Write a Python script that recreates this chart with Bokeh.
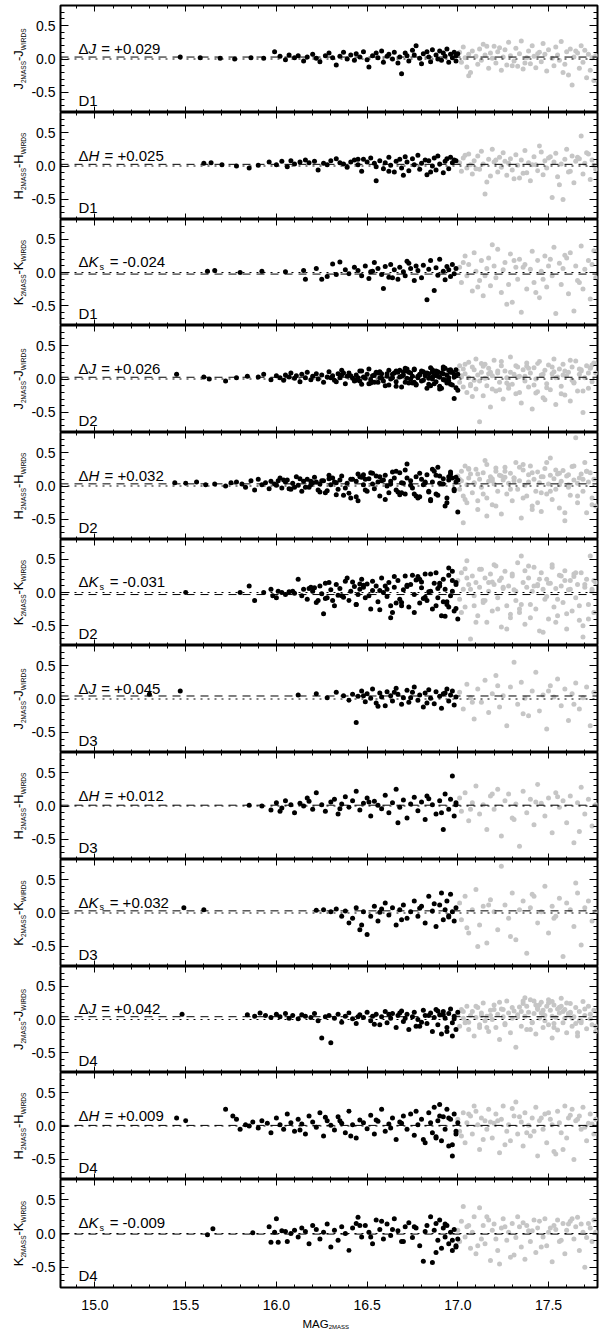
import math
from bokeh.plotting import figure
from bokeh.layouts import column, row
from bokeh.models import (Range1d, LinearAxis, FixedTicker, Span, Label,
                          NumeralTickFormatter, CustomJSTickFormatter, ColumnDataSource)
from bokeh.embed import file_html
from bokeh.resources import INLINE

# ---------------- data ----------------
fields = ["D1", "D1", "D1", "D2", "D2", "D2", "D3", "D3", "D3", "D4", "D4", "D4"]
bands = ["J", "H", "Ks", "J", "H", "Ks", "J", "H", "Ks", "J", "H", "Ks"]
deltas = [0.029, 0.025, -0.024, 0.026, 0.032, -0.031, 0.045, 0.012, 0.032, 0.042, 0.009, -0.009]
x_tick_values = [15.0, 15.5, 16.0, 16.5, 17.0, 17.5]
y_tick_values = [-0.5, 0.0, 0.5]

d1_j_bx = [15.47,15.58,15.69,15.77,15.86,15.93,15.99,16.02,16.05,16.07,16.10,16.12,16.15,16.17,16.20,16.22,16.24,16.27,16.29,16.31,16.33,16.35,16.37,16.39,16.41,16.43,16.44,16.46,16.48,16.50,16.51,16.53,16.55,16.56,16.58,16.59,16.61,16.62,16.64,16.65,16.67,16.68,16.69,16.71,16.72,16.73,16.75,16.76,16.77,16.79,16.80,16.81,16.83,16.84,16.85,16.86,16.88,16.89,16.90,16.91,16.92,16.93,16.94,16.95,16.96,16.97,16.98,16.99,16.99,17.00]
d1_j_by = [0.03,0.02,0.01,0.00,0.02,0.01,0.11,0.04,-0.01,0.06,0.02,0.05,-0.03,0.03,0.07,0.01,-0.04,0.05,0.09,0.02,-0.09,0.04,0.10,0.00,0.06,-0.02,0.08,0.03,0.11,-0.01,-0.12,0.05,0.09,0.02,0.12,-0.05,0.04,0.07,0.00,0.10,-0.06,0.03,-0.22,0.09,0.05,-0.03,0.13,0.06,0.20,0.01,-0.07,0.08,0.11,0.03,-0.04,0.14,0.06,0.00,0.12,-0.02,0.09,0.04,0.15,-0.05,0.07,0.02,0.10,-0.03,0.05,0.08]
d1_j_gx = [17.01,17.02,17.03,17.04,17.05,17.06,17.07,17.08,17.10,17.11,17.12,17.13,17.14,17.15,17.17,17.18,17.19,17.20,17.21,17.22,17.24,17.25,17.26,17.27,17.28,17.29,17.31,17.32,17.33,17.34,17.35,17.36,17.38,17.39,17.40,17.41,17.42,17.43,17.45,17.46,17.47,17.48,17.49,17.50,17.52,17.53,17.54,17.55,17.56,17.57,17.59,17.60,17.61,17.62,17.63,17.64,17.66,17.67,17.68,17.69,17.70,17.71,17.72,17.73,17.74,17.75,17.76,17.06,17.16,17.30,17.44,17.58,17.65,17.23,17.37]
d1_j_gy = [0.10,-0.05,0.18,0.02,-0.12,0.07,-0.20,0.12,0.04,-0.08,0.15,-0.02,0.22,0.06,-0.14,0.09,0.01,0.19,-0.06,0.11,-0.17,0.03,0.14,-0.09,0.25,0.05,-0.03,0.16,-0.11,0.08,0.27,-0.15,0.02,0.12,-0.07,0.20,0.04,-0.13,0.10,-0.04,0.23,0.07,-0.18,0.14,0.01,-0.10,0.18,0.06,-0.02,0.26,-0.08,0.11,-0.24,0.15,-0.39,0.03,0.09,-0.14,0.20,-0.05,0.13,-0.28,0.07,-0.17,0.02,-0.32,0.05,-0.25,0.19,-0.10,0.08,-0.20,0.12,0.17,-0.06]

d1_h_bx = [15.60,15.64,15.70,15.78,15.85,15.90,15.96,16.00,16.03,16.06,16.08,16.10,16.13,16.16,16.18,16.21,16.23,16.26,16.28,16.30,16.33,16.35,16.37,16.39,16.41,16.43,16.45,16.47,16.48,16.50,16.52,16.54,16.55,16.57,16.59,16.60,16.62,16.63,16.65,16.66,16.68,16.69,16.71,16.72,16.73,16.75,16.76,16.78,16.79,16.80,16.82,16.83,16.84,16.86,16.87,16.88,16.89,16.90,16.92,16.93,16.94,16.95,16.96,16.97,16.98,16.99,16.55,16.70,16.85,16.45,16.62]
d1_h_by = [0.04,0.05,0.02,0.00,-0.03,0.01,0.06,0.02,0.07,-0.01,0.08,0.03,0.06,0.09,0.05,0.07,-0.06,0.04,0.02,0.08,0.11,0.05,0.03,-0.02,0.06,0.09,0.02,-0.08,0.10,0.06,0.12,0.04,-0.22,0.08,-0.04,0.05,0.13,0.01,-0.09,0.07,0.10,-0.03,0.14,0.06,-0.07,0.11,0.02,0.16,-0.05,0.04,0.09,-0.13,0.08,0.00,0.12,-0.06,0.15,0.03,-0.10,0.07,0.11,-0.04,0.13,0.05,0.09,0.08,-0.01,-0.14,-0.09,0.10,-0.08]
d1_h_gx = [17.01,17.02,17.03,17.05,17.06,17.07,17.08,17.09,17.11,17.12,17.13,17.14,17.15,17.17,17.18,17.19,17.20,17.22,17.23,17.24,17.25,17.27,17.28,17.29,17.30,17.32,17.33,17.34,17.35,17.37,17.38,17.39,17.40,17.42,17.43,17.44,17.45,17.47,17.48,17.49,17.50,17.52,17.53,17.54,17.55,17.57,17.58,17.59,17.60,17.62,17.63,17.64,17.65,17.67,17.68,17.69,17.70,17.72,17.73,17.74,17.75,17.76,17.04,17.16,17.26,17.36,17.46,17.56,17.66,17.10,17.21,17.31,17.41,17.51,17.61,17.71]
d1_h_gy = [0.05,-0.08,0.12,-0.03,0.18,0.02,-0.12,0.08,0.15,-0.05,0.22,0.03,-0.42,0.10,-0.15,0.25,0.06,-0.09,0.13,-0.02,0.20,-0.14,0.04,0.11,-0.06,0.17,0.01,-0.18,0.09,0.23,-0.10,0.05,-0.22,0.14,0.02,-0.07,0.30,-0.13,0.08,-0.03,0.12,-0.47,0.06,0.19,-0.16,0.03,-0.50,0.10,0.25,-0.08,0.15,-0.25,0.07,0.11,0.45,-0.12,0.04,0.18,-0.20,0.09,0.01,-0.05,0.16,-0.24,0.07,-0.11,0.21,-0.28,0.13,-0.04,0.09,-0.19,0.02,0.14,-0.09,0.20]

d1_k_bx = [15.62,15.66,15.80,15.92,16.05,16.15,16.16,16.22,16.25,16.28,16.31,16.33,16.35,16.38,16.40,16.43,16.45,16.47,16.49,16.51,16.53,16.54,16.56,16.58,16.59,16.60,16.62,16.63,16.65,16.67,16.68,16.70,16.71,16.73,16.74,16.76,16.77,16.78,16.80,16.81,16.83,16.84,16.85,16.87,16.88,16.89,16.90,16.92,16.93,16.94,16.95,16.96,16.97,16.98,16.99,16.72,16.64,16.52]
d1_k_by = [0.02,0.03,0.00,0.02,0.01,0.03,-0.10,0.06,-0.10,-0.06,0.13,-0.03,0.16,0.04,-0.02,0.08,0.03,-0.05,0.10,-0.09,0.02,0.15,0.06,-0.03,-0.24,0.09,-0.07,0.12,0.04,-0.10,0.08,0.01,-0.05,0.14,0.06,-0.12,0.10,0.03,-0.08,0.11,-0.41,0.05,0.18,-0.27,0.07,-0.04,0.20,0.02,-0.11,0.09,0.04,-0.06,0.12,-0.02,0.06,0.17,-0.08,0.01]
d1_k_gx = [17.01,17.02,17.04,17.05,17.06,17.08,17.09,17.10,17.12,17.13,17.14,17.16,17.17,17.18,17.20,17.21,17.22,17.24,17.25,17.26,17.28,17.29,17.30,17.32,17.33,17.34,17.35,17.37,17.38,17.40,17.41,17.42,17.44,17.45,17.46,17.48,17.49,17.50,17.52,17.53,17.54,17.56,17.57,17.58,17.60,17.61,17.62,17.64,17.65,17.66,17.68,17.69,17.70,17.72,17.73,17.74,17.76,17.03,17.11,17.19,17.27,17.36,17.43,17.51,17.59,17.67,17.75,17.15,17.31,17.47]
d1_k_gy = [0.08,-0.15,0.25,-0.05,0.12,-0.28,0.30,0.02,-0.12,0.18,-0.35,0.06,0.22,-0.20,0.10,-0.08,0.35,-0.30,0.04,0.15,-0.18,0.28,-0.45,0.08,-0.10,0.20,-0.60,0.12,-0.25,0.05,0.32,-0.15,0.18,-0.38,0.02,0.25,-0.22,0.10,-0.05,0.38,-0.62,0.14,-0.18,0.06,0.22,-0.32,0.30,-0.58,0.10,-0.12,0.40,-0.25,0.05,0.18,-0.40,0.12,-0.08,0.15,-0.22,0.42,-0.48,0.08,-0.30,0.20,0.26,-0.15,0.33,-0.05,0.18,-0.10]

d2_j_bx = [15.45,15.60,15.63,15.72,15.78,15.84,15.90,15.93,15.97,16.00,16.02,16.04,16.05,16.07,16.08,16.10,16.11,16.13,16.14,16.16,16.17,16.19,16.20,16.22,16.23,16.25,16.26,16.28,16.29,16.31,16.32,16.34,16.35,16.36,16.38,16.39,16.40,16.42,16.43,16.44,16.46,16.47,16.48,16.50,16.51,16.52,16.53,16.55,16.56,16.57,16.58,16.60,16.61,16.62,16.63,16.64,16.66,16.67,16.68,16.69,16.70,16.71,16.72,16.73,16.74,16.75,16.76,16.77,16.78,16.79,16.80,16.81,16.82,16.83,16.84,16.85,16.86,16.87,16.88,16.89,16.90,16.91,16.92,16.93,16.94,16.95,16.96,16.97,16.98,16.99,17.00,16.45,16.54,16.65,16.72,16.78,16.84,16.88,16.92,16.95,16.98,16.99,16.62,16.70,16.82,16.90,16.96,16.58,16.75,16.86]
d2_j_by = [0.07,0.03,0.00,-0.03,0.02,0.04,0.03,0.07,-0.01,0.05,0.02,-0.02,0.06,0.03,0.09,0.01,0.05,-0.04,0.07,0.02,0.10,-0.01,0.04,0.08,0.00,0.06,-0.05,0.03,0.11,0.05,-0.02,0.08,0.02,0.13,-0.07,0.04,0.09,0.01,-0.03,0.06,0.12,-0.08,0.03,0.07,0.15,-0.01,0.05,0.10,-0.05,0.02,0.08,-0.10,0.04,0.13,0.00,0.07,-0.04,0.10,0.03,-0.12,0.06,0.16,0.01,-0.06,0.09,0.04,0.14,-0.09,0.02,0.07,-0.03,0.11,0.05,-0.14,0.08,0.17,0.00,-0.07,0.12,0.04,-0.11,0.09,0.15,-0.02,0.06,0.13,-0.08,0.10,0.03,-0.13,0.07,0.02,-0.05,0.09,0.12,0.04,-0.08,0.06,0.18,-0.03,-0.29,0.05,-0.09,0.11,0.08,-0.15,0.14,0.01,-0.06,0.10]
d2_j_bx_more = [16.30,16.33,16.37,16.41,16.44,16.47,16.49,16.51,16.54,16.57,16.59,16.61,16.64,16.66,16.68,16.69,16.71,16.73,16.74,16.76,16.77,16.79,16.80,16.81,16.83,16.84,16.85,16.86,16.87,16.88,16.89,16.90,16.91,16.92,16.93,16.94,16.95,16.96,16.97,16.98,16.99,17.00,16.36,16.46,16.56,16.66,16.76,16.86,16.96,16.52,16.72,16.92]
d2_j_by_more = [0.02,-0.04,0.09,0.05,-0.02,0.12,0.01,-0.07,0.06,0.11,-0.03,0.08,0.02,-0.11,0.13,0.04,-0.05,0.10,0.00,0.15,-0.08,0.06,0.12,-0.02,0.09,0.01,-0.10,0.14,0.05,-0.04,0.11,0.03,-0.14,0.08,0.16,-0.06,0.02,0.12,-0.09,0.07,0.14,-0.17,0.06,-0.03,0.09,0.12,-0.05,0.03,0.10,-0.06,0.15,-0.01]
d2_j_gx = [17.00,17.01,17.01,17.02,17.03,17.03,17.04,17.05,17.06,17.06,17.07,17.08,17.09,17.10,17.10,17.11,17.12,17.13,17.14,17.15,17.15,17.16,17.17,17.18,17.19,17.20,17.21,17.22,17.23,17.24,17.25,17.26,17.27,17.28,17.29,17.30,17.31,17.32,17.33,17.34,17.35,17.36,17.37,17.38,17.39,17.40,17.41,17.42,17.43,17.44,17.45,17.46,17.47,17.48,17.49,17.50,17.51,17.52,17.53,17.54,17.55,17.56,17.57,17.58,17.59,17.60,17.61,17.62,17.63,17.64,17.65,17.66,17.67,17.68,17.69,17.70,17.71,17.72,17.73,17.74,17.75,17.76,17.08,17.18,17.28,17.38,17.48,17.58,17.68,17.13,17.23,17.33,17.43,17.53,17.63,17.73]
d2_j_gy = [0.12,-0.05,0.20,0.03,-0.12,0.15,0.08,-0.20,0.25,0.02,-0.08,0.18,-0.02,0.30,-0.15,0.06,-0.64,0.10,-0.25,0.22,0.01,-0.10,0.16,-0.42,0.05,0.28,-0.18,0.09,-0.05,0.20,-0.30,0.12,0.02,-0.14,0.33,-0.08,0.07,-0.22,0.18,0.04,-0.36,0.14,-0.03,0.24,-0.12,0.09,-0.45,0.17,0.00,-0.19,0.26,0.06,-0.28,0.13,-0.07,0.21,-0.16,0.08,0.30,-0.38,0.03,0.15,-0.11,0.22,-0.24,0.05,0.10,-0.33,0.18,-0.06,0.27,-0.18,0.07,0.12,-0.50,0.02,0.20,-0.14,0.16,-0.04,0.24,0.09,-0.26,0.10,-0.09,0.19,-0.31,0.06,0.14,0.23,-0.16,0.03,-0.21,0.11,-0.02,0.17]
d2_j_gx_more = [17.02,17.04,17.07,17.09,17.12,17.14,17.17,17.19,17.22,17.24,17.27,17.29,17.32,17.34,17.37,17.39,17.42,17.44,17.47,17.49,17.52,17.54,17.57,17.59,17.62,17.64,17.67,17.69,17.72,17.74]
d2_j_gy_more = [0.05,0.22,-0.10,0.14,-0.03,0.19,0.08,-0.15,0.12,0.26,-0.06,0.10,0.20,-0.20,0.04,0.16,-0.09,0.23,0.07,-0.13,0.18,0.02,-0.22,0.12,0.28,-0.05,0.15,-0.18,0.09,0.21]

d2_h_bx = [15.44,15.50,15.56,15.61,15.66,15.72,15.75,15.78,15.81,15.83,15.86,15.88,15.90,15.92,15.94,15.96,15.97,15.99,16.00,16.02,16.03,16.05,16.06,16.08,16.09,16.11,16.12,16.14,16.15,16.17,16.18,16.20,16.21,16.23,16.24,16.26,16.27,16.29,16.30,16.32,16.33,16.35,16.36,16.38,16.39,16.41,16.42,16.44,16.45,16.47,16.48,16.50,16.51,16.53,16.54,16.56,16.57,16.59,16.60,16.62,16.63,16.65,16.66,16.68,16.69,16.71,16.72,16.74,16.75,16.77,16.78,16.80,16.81,16.83,16.84,16.86,16.87,16.89,16.90,16.92,16.93,16.95,16.96,16.98,16.99,17.00,16.10,16.25,16.40,16.55,16.70,16.85,16.97,16.19,16.34,16.49,16.64,16.79,16.91,16.04,16.28,16.46,16.61,16.76,16.88,16.94,16.99,16.52,16.67,16.82]
d2_h_by = [0.05,0.04,0.06,0.02,0.03,0.00,0.05,0.06,0.03,-0.02,0.08,-0.06,0.10,0.02,0.05,-0.04,0.07,0.03,0.01,0.12,-0.03,0.06,0.09,-0.05,0.04,0.14,0.01,-0.08,0.07,0.10,-0.02,0.05,0.13,-0.06,0.03,0.08,-0.10,0.11,0.02,0.06,-0.13,0.09,0.15,-0.03,0.04,-0.18,0.10,0.07,-0.22,0.13,0.02,-0.08,0.11,0.19,-0.04,0.06,-0.15,0.09,0.16,-0.10,0.03,0.12,-0.06,0.20,0.05,-0.12,0.33,0.08,-0.03,0.14,-0.18,0.10,0.02,0.17,-0.09,0.06,0.22,-0.14,0.04,0.11,-0.30,0.09,0.18,-0.07,0.13,-0.39,-0.02,0.08,-0.11,0.15,0.04,-0.20,0.12,0.07,-0.05,0.10,0.21,-0.16,0.03,0.09,-0.07,0.14,0.00,-0.12,0.16,-0.25,0.06,0.20,-0.09,0.05,0.11]
d2_h_bx_more = [16.01,16.07,16.13,16.19,16.24,16.29,16.33,16.37,16.41,16.45,16.49,16.53,16.57,16.60,16.63,16.66,16.69,16.72,16.74,16.77,16.79,16.82,16.84,16.86,16.88,16.90,16.92,16.94,16.96,16.98,17.00,16.16,16.31,16.44,16.58,16.71,16.85,16.95,16.22,16.48,16.68,16.89]
d2_h_by_more = [0.08,-0.04,0.11,0.02,-0.09,0.16,0.05,-0.14,0.10,0.18,-0.06,0.03,0.14,-0.20,0.07,0.22,-0.10,0.12,0.01,-0.15,0.19,0.06,-0.08,0.25,-0.12,0.15,0.03,-0.18,0.21,-0.05,0.09,-0.02,0.12,-0.16,0.08,0.24,-0.22,0.14,0.06,0.17,-0.13,0.28]
d2_h_gx = [17.00,17.01,17.02,17.02,17.03,17.04,17.05,17.05,17.06,17.07,17.08,17.09,17.10,17.11,17.12,17.13,17.14,17.15,17.16,17.17,17.18,17.19,17.20,17.21,17.22,17.23,17.24,17.25,17.26,17.27,17.28,17.29,17.30,17.31,17.32,17.33,17.34,17.35,17.36,17.37,17.38,17.39,17.40,17.41,17.42,17.43,17.44,17.45,17.46,17.47,17.48,17.49,17.50,17.51,17.52,17.53,17.54,17.55,17.56,17.57,17.58,17.59,17.60,17.61,17.62,17.63,17.64,17.65,17.66,17.67,17.68,17.69,17.70,17.71,17.72,17.73,17.74,17.75,17.76,17.06,17.16,17.26,17.36,17.46,17.56,17.66,17.11,17.21,17.31,17.41,17.51,17.61,17.71,17.03,17.19,17.29]
d2_h_gy = [0.15,-0.05,0.22,0.08,-0.15,0.30,0.02,-0.25,0.12,0.18,-0.10,0.05,0.25,-0.35,0.10,-0.02,0.20,0.38,-0.18,0.07,0.14,-0.28,0.03,0.22,-0.08,0.16,-0.42,0.09,0.28,-0.12,0.04,0.19,-0.22,0.12,0.35,-0.05,0.08,-0.48,0.24,0.01,-0.15,0.17,0.30,-0.30,0.10,-0.08,0.21,0.05,-0.38,0.14,0.26,-0.12,0.03,0.42,-0.20,0.11,-0.05,0.18,-0.33,0.07,0.23,-0.52,0.15,0.02,-0.14,0.29,0.09,0.72,-0.25,0.12,0.18,-0.08,0.35,-0.40,0.06,0.20,-0.18,0.10,-0.30,0.25,-0.45,0.13,0.32,-0.10,0.19,0.04,-0.22,0.27,0.08,-0.35,0.16,-0.02,0.22,-0.55,0.11]
d2_h_gx_more = [17.01,17.04,17.06,17.09,17.11,17.14,17.16,17.19,17.21,17.24,17.26,17.29,17.31,17.34,17.36,17.39,17.41,17.44,17.46,17.49,17.51,17.54,17.56,17.59,17.61,17.64,17.66,17.69,17.71,17.74]
d2_h_gy_more = [0.10,-0.20,0.26,0.04,0.18,-0.12,0.32,0.08,-0.30,0.15,0.22,-0.05,0.12,0.28,-0.18,0.06,0.20,-0.25,0.14,0.35,-0.08,0.24,0.02,-0.40,0.17,0.30,-0.15,0.10,0.22,-0.28]

d2_k_bx = [15.50,15.80,15.85,15.88,15.93,15.97,15.98,16.00,16.01,16.03,16.05,16.07,16.09,16.10,16.12,16.14,16.15,16.17,16.19,16.20,16.22,16.24,16.25,16.27,16.28,16.30,16.32,16.33,16.35,16.36,16.38,16.40,16.41,16.43,16.44,16.46,16.47,16.49,16.50,16.52,16.53,16.55,16.56,16.58,16.59,16.61,16.62,16.64,16.65,16.67,16.68,16.70,16.71,16.73,16.74,16.76,16.77,16.79,16.80,16.82,16.83,16.85,16.86,16.87,16.88,16.89,16.90,16.91,16.92,16.93,16.94,16.95,16.96,16.97,16.98,16.99,17.00,16.21,16.31,16.42,16.51,16.60,16.69,16.78,16.84,16.92,16.97,16.26,16.37,16.48,16.57,16.66,16.75,16.81,16.89,16.95,16.99,16.45,16.63,16.72]
d2_k_by = [0.00,0.00,0.10,-0.12,0.00,0.05,-0.05,-0.08,0.02,0.00,-0.03,0.01,0.02,-0.01,0.20,-0.05,0.05,-0.10,0.08,0.02,-0.15,0.10,-0.02,0.14,-0.08,0.04,-0.20,0.12,0.06,-0.05,0.17,-0.12,0.02,0.09,-0.18,0.05,0.20,-0.08,0.13,-0.25,0.03,0.10,-0.14,0.22,0.00,-0.06,0.15,-0.30,0.08,0.18,-0.10,0.04,0.25,-0.22,0.12,-0.03,0.19,-0.16,0.07,0.28,-0.12,0.02,-0.25,0.14,0.30,-0.08,0.10,-0.35,0.20,0.05,-0.18,0.37,-0.05,0.32,-0.28,0.12,-0.40,0.07,-0.12,0.16,-0.05,0.10,-0.20,0.24,0.01,-0.14,0.18,-0.32,-0.07,0.11,0.03,-0.16,0.26,-0.09,0.06,-0.22,0.15,-0.03,-0.38,0.09,0.21,-0.11]
d2_k_bx_more = [16.18,16.23,16.29,16.34,16.39,16.44,16.48,16.53,16.57,16.61,16.65,16.69,16.72,16.76,16.79,16.82,16.85,16.88,16.90,16.93,16.95,16.97,16.99,16.27,16.46,16.63,16.80,16.94]
d2_k_by_more = [0.06,-0.12,0.15,-0.04,0.22,-0.18,0.08,0.17,-0.26,0.05,0.24,-0.15,0.11,-0.30,0.20,-0.07,0.28,-0.20,0.14,-0.36,0.26,0.02,-0.24,-0.09,0.13,-0.20,0.16,-0.14]
d2_k_gx = [17.00,17.01,17.02,17.03,17.04,17.05,17.06,17.07,17.08,17.09,17.10,17.11,17.12,17.13,17.14,17.15,17.16,17.17,17.18,17.19,17.20,17.21,17.22,17.23,17.24,17.25,17.26,17.27,17.28,17.29,17.30,17.31,17.32,17.33,17.34,17.35,17.36,17.37,17.38,17.39,17.40,17.41,17.42,17.43,17.44,17.45,17.46,17.47,17.48,17.49,17.50,17.51,17.52,17.53,17.54,17.55,17.56,17.57,17.58,17.59,17.60,17.61,17.62,17.63,17.64,17.65,17.66,17.67,17.68,17.69,17.70,17.71,17.72,17.73,17.74,17.75,17.76,17.04,17.14,17.24,17.34,17.44,17.54,17.64,17.74,17.09,17.19,17.29,17.39,17.49,17.59,17.69]
d2_k_gy = [0.18,-0.10,0.30,0.05,-0.22,0.48,0.12,-0.70,0.25,-0.05,0.15,-0.35,0.08,0.35,-0.15,0.22,-0.45,0.02,0.28,-0.28,0.12,0.40,-0.08,0.18,-0.52,0.06,0.32,-0.20,0.10,-0.38,0.25,0.04,-0.12,0.45,-0.30,0.55,0.15,-0.48,0.08,0.22,-0.18,0.02,0.38,-0.25,0.12,-0.58,0.30,0.05,-0.10,0.20,-0.40,0.14,0.42,-0.22,0.06,-0.35,0.26,0.10,-0.15,0.33,-0.55,0.04,0.18,-0.28,0.24,-0.08,0.12,-0.42,0.30,-0.67,0.08,0.20,-0.18,0.55,0.02,-0.30,0.15,0.36,-0.12,0.22,-0.25,0.10,-0.45,0.28,0.05,-0.20,0.16,-0.33,0.40,-0.06,0.18,-0.50]
d2_k_gx_more = [17.02,17.05,17.07,17.10,17.12,17.15,17.17,17.20,17.22,17.25,17.27,17.30,17.32,17.35,17.37,17.40,17.42,17.45,17.47,17.50,17.52,17.55,17.57,17.60,17.62,17.65,17.67,17.70,17.72,17.75]
d2_k_gy_more = [-0.30,0.22,0.05,-0.45,0.35,-0.12,0.15,0.42,-0.25,0.08,-0.55,0.28,0.02,-0.18,0.33,-0.38,0.10,0.20,-0.60,0.14,0.38,-0.10,0.25,-0.32,0.05,0.30,-0.20,0.12,-0.40,0.18]

d3_j_bx = [15.30,15.47,16.12,16.22,16.28,16.33,16.37,16.40,16.42,16.44,16.45,16.47,16.49,16.50,16.52,16.53,16.55,16.57,16.58,16.60,16.61,16.63,16.64,16.66,16.67,16.69,16.70,16.72,16.73,16.75,16.76,16.78,16.79,16.81,16.82,16.84,16.85,16.87,16.88,16.90,16.91,16.92,16.94,16.95,16.96,16.97,16.98,16.99,16.48,16.56,16.65,16.74,16.83,16.93]
d3_j_by = [0.07,0.12,0.06,0.08,0.02,0.10,0.05,-0.02,0.07,-0.35,0.04,0.12,-0.04,0.08,0.01,0.15,-0.06,0.09,0.03,-0.10,0.11,0.05,-0.03,0.16,0.07,-0.08,0.02,0.13,-0.05,0.10,0.18,-0.02,0.06,-0.12,0.09,0.14,0.01,-0.07,0.11,0.04,-0.14,0.08,0.15,-0.03,0.06,0.12,-0.09,0.03,0.05,-0.11,0.10,0.02,-0.06,0.09]
d3_j_gx = [17.01,17.03,17.05,17.07,17.09,17.11,17.13,17.15,17.17,17.19,17.21,17.23,17.25,17.27,17.29,17.31,17.33,17.35,17.37,17.39,17.41,17.43,17.45,17.47,17.49,17.51,17.53,17.55,17.57,17.59,17.61,17.63,17.65,17.67,17.69,17.71,17.73,17.75,17.08,17.22,17.36,17.50,17.64]
d3_j_gy = [0.10,-0.15,0.22,0.02,-0.30,0.15,-0.05,0.28,-0.20,0.08,0.35,-0.12,0.05,-0.40,0.18,0.55,-0.08,0.25,0.01,-0.25,0.12,0.40,-0.18,0.06,-0.45,0.20,0.03,0.30,-0.10,0.15,-0.32,0.08,0.24,-0.15,0.02,0.18,-0.40,0.10,-0.05,0.20,-0.22,0.12,-0.08]

d3_h_bx = [15.85,15.92,15.97,16.00,16.03,16.05,16.08,16.10,16.13,16.15,16.18,16.20,16.22,16.25,16.27,16.30,16.32,16.34,16.36,16.38,16.40,16.42,16.44,16.46,16.48,16.50,16.52,16.54,16.56,16.58,16.60,16.62,16.64,16.66,16.68,16.70,16.72,16.74,16.76,16.78,16.80,16.82,16.84,16.86,16.88,16.90,16.92,16.93,16.95,16.96,16.97,16.98,16.99,16.02,16.17,16.35,16.51,16.67,16.83,16.91,16.99]
d3_h_by = [0.01,0.00,-0.06,0.05,-0.03,0.08,0.02,-0.10,0.04,0.00,0.07,-0.05,0.20,0.02,-0.08,0.06,0.10,-0.12,0.03,0.14,-0.02,0.08,0.22,-0.06,0.04,0.12,-0.15,0.07,0.01,-0.04,0.16,-0.10,0.05,0.25,-0.02,0.09,-0.18,0.03,0.13,-0.07,0.06,-0.20,0.11,0.02,-0.12,0.08,-0.35,0.18,-0.05,0.10,0.45,-0.15,0.05,-0.08,0.12,-0.04,0.06,-0.25,0.15,-0.10,0.02]
d3_h_gx = [17.01,17.02,17.04,17.06,17.08,17.10,17.12,17.14,17.16,17.18,17.20,17.22,17.24,17.26,17.28,17.30,17.32,17.34,17.36,17.38,17.40,17.42,17.44,17.46,17.48,17.50,17.52,17.54,17.56,17.58,17.60,17.62,17.64,17.66,17.68,17.70,17.72,17.74,17.76,17.07,17.19,17.31,17.43,17.55,17.67]
d3_h_gy = [0.12,-0.08,0.20,-0.22,0.05,0.30,-0.12,0.02,-0.35,0.15,-0.05,0.25,-0.45,0.08,0.18,-0.18,0.03,-0.60,0.22,-0.10,0.10,-0.28,0.32,0.04,-0.15,0.12,-0.40,0.20,-0.02,0.08,-0.25,0.15,-0.55,0.05,0.28,-0.12,0.10,-0.30,0.02,-0.05,0.18,-0.20,0.06,0.14,-0.38]

d3_k_bx = [15.49,15.60,16.22,16.26,16.30,16.33,16.36,16.38,16.40,16.42,16.44,16.46,16.48,16.50,16.52,16.54,16.56,16.58,16.60,16.62,16.64,16.66,16.68,16.70,16.72,16.74,16.76,16.78,16.80,16.82,16.84,16.86,16.88,16.90,16.91,16.92,16.93,16.94,16.95,16.96,16.97,16.98,16.99,16.47,16.57,16.69,16.79,16.87,16.95]
d3_k_by = [0.08,0.05,0.04,0.05,0.02,0.06,-0.05,0.03,-0.15,-0.08,0.08,-0.25,0.02,-0.32,-0.05,0.10,-0.12,0.06,0.15,-0.03,0.08,-0.18,0.05,0.12,-0.08,0.02,0.18,-0.05,0.10,-0.15,0.25,0.03,-0.20,0.12,0.30,-0.10,0.05,0.18,-0.06,0.28,0.02,-0.12,0.08,-0.18,0.01,-0.10,0.07,0.14,-0.04]
d3_k_gx = [17.01,17.02,17.04,17.06,17.08,17.10,17.12,17.14,17.16,17.18,17.20,17.22,17.24,17.26,17.28,17.30,17.32,17.34,17.36,17.38,17.40,17.42,17.44,17.46,17.48,17.50,17.52,17.54,17.56,17.58,17.60,17.62,17.64,17.66,17.68,17.70,17.72,17.74,17.76,17.05,17.17,17.29,17.41,17.53,17.65,17.11]
d3_k_gy = [0.15,-0.10,0.25,-0.30,0.05,0.35,-0.18,0.10,-0.45,0.20,0.02,-0.25,0.70,0.12,-0.08,0.30,-0.40,0.05,0.18,-0.60,0.08,0.25,-0.15,0.02,0.40,-0.30,0.10,-0.05,0.22,-0.65,0.15,0.05,-0.20,0.30,-0.48,0.08,0.18,-0.12,0.02,-0.22,0.12,-0.35,0.28,-0.08,0.45,-0.50]

d4_j_bx = [15.48,15.84,15.88,15.91,15.94,15.97,16.00,16.02,16.05,16.07,16.09,16.12,16.14,16.16,16.19,16.21,16.23,16.25,16.27,16.29,16.30,16.32,16.34,16.36,16.38,16.40,16.42,16.44,16.46,16.48,16.50,16.52,16.53,16.55,16.57,16.58,16.60,16.61,16.63,16.64,16.66,16.67,16.69,16.70,16.72,16.73,16.75,16.76,16.78,16.79,16.81,16.82,16.83,16.85,16.86,16.87,16.88,16.89,16.90,16.91,16.92,16.93,16.94,16.95,16.96,16.97,16.98,16.99,17.00,16.45,16.54,16.62,16.71,16.77,16.84,16.89,16.94,16.98,16.68,16.80,16.92,16.97]
d4_j_by = [0.08,0.07,0.05,0.10,0.06,0.03,0.08,0.04,0.09,0.02,0.06,0.01,0.07,0.05,0.03,0.09,-0.02,-0.28,0.04,0.06,-0.35,0.02,0.08,-0.04,0.05,0.10,0.01,-0.06,0.07,0.03,0.11,-0.02,0.05,0.08,-0.08,0.04,0.12,-0.05,0.02,0.09,-0.12,0.06,0.13,-0.03,0.08,-0.15,0.04,0.11,0.00,-0.10,0.14,0.06,-0.06,0.10,-0.18,0.03,0.15,-0.08,0.07,-0.22,0.12,0.02,-0.12,0.09,0.16,-0.05,0.05,-0.15,0.11,0.04,-0.07,0.08,0.02,-0.10,0.06,0.13,-0.18,0.01,0.10,-0.04,0.07,-0.25,0.03]
d4_j_gx = [17.00,17.01,17.02,17.03,17.04,17.05,17.06,17.07,17.08,17.09,17.10,17.11,17.12,17.13,17.14,17.15,17.16,17.17,17.18,17.19,17.20,17.21,17.22,17.23,17.24,17.25,17.26,17.27,17.28,17.29,17.30,17.31,17.32,17.33,17.34,17.35,17.36,17.37,17.38,17.39,17.40,17.41,17.42,17.43,17.44,17.45,17.46,17.47,17.48,17.49,17.50,17.51,17.52,17.53,17.54,17.55,17.56,17.57,17.58,17.59,17.60,17.61,17.62,17.63,17.64,17.65,17.66,17.67,17.68,17.69,17.70,17.71,17.72,17.73,17.74,17.75,17.76,17.35,17.38,17.41,17.44,17.47,17.50,17.53,17.56,17.59,17.62,17.65,17.45,17.52,17.58,17.48,17.55,17.42,17.61,17.05,17.12,17.18,17.25,17.68]
d4_j_gy = [0.08,-0.10,0.15,0.02,-0.05,0.20,-0.15,0.06,0.12,-0.25,0.03,0.18,-0.08,0.10,0.25,-0.02,0.05,-0.18,0.14,0.00,0.22,-0.12,0.08,-0.30,0.16,0.04,-0.06,0.28,0.10,-0.20,0.02,0.13,-0.42,0.07,0.19,-0.10,0.24,0.05,-0.15,0.11,0.30,-0.04,0.09,-0.22,0.17,0.02,0.26,-0.12,0.06,0.20,-0.08,0.14,-0.28,0.22,0.03,-0.16,0.10,0.32,-0.05,0.15,-0.20,0.08,0.24,-0.10,0.04,0.18,-0.25,0.12,-0.02,0.27,0.06,-0.14,0.20,0.01,-0.08,0.14,-0.18,0.12,0.20,-0.05,0.15,0.08,0.25,-0.12,0.18,0.02,0.10,-0.06,0.22,0.05,0.12,-0.02,0.16,0.28,0.09,-0.03,-0.12,0.06,0.15,-0.05,0.10]
d4_j_gx_more = [17.03,17.06,17.10,17.13,17.16,17.20,17.23,17.26,17.30,17.33,17.36,17.40,17.43,17.46,17.50,17.53,17.56,17.60,17.63,17.66,17.70,17.73,17.76,17.37,17.47,17.57,17.67,17.52,17.44,17.62]
d4_j_gy_more = [0.12,-0.04,0.20,0.06,-0.12,0.15,0.26,-0.08,0.18,0.04,0.28,-0.15,0.22,0.10,0.30,-0.06,0.18,0.25,0.02,-0.20,0.16,0.08,-0.10,0.33,0.14,0.20,-0.02,0.27,0.19,0.11]

d4_h_bx = [15.45,15.50,15.72,15.76,15.78,15.80,15.83,15.85,15.87,15.90,15.92,15.95,15.97,16.00,16.02,16.04,16.06,16.08,16.10,16.12,16.14,16.16,16.18,16.20,16.22,16.24,16.26,16.28,16.30,16.32,16.34,16.36,16.38,16.40,16.42,16.44,16.46,16.48,16.50,16.52,16.54,16.56,16.58,16.60,16.62,16.64,16.66,16.68,16.70,16.72,16.74,16.76,16.78,16.80,16.82,16.84,16.85,16.86,16.87,16.88,16.89,16.90,16.91,16.92,16.93,16.94,16.95,16.96,16.97,16.98,16.99,17.00,16.13,16.27,16.41,16.55,16.69,16.81,16.90,16.97,16.35,16.63,16.77,16.88,16.95,16.99]
d4_h_by = [0.12,0.08,0.25,0.15,0.10,-0.05,0.02,0.00,0.06,-0.03,0.08,0.04,-0.10,0.12,0.02,-0.05,0.18,0.05,-0.08,0.10,0.03,-0.12,0.15,0.06,-0.02,0.20,-0.15,0.08,0.01,-0.06,0.14,0.04,-0.10,0.22,0.02,-0.18,0.09,0.05,-0.04,0.16,-0.12,0.07,0.25,-0.08,0.03,0.12,-0.20,0.06,0.15,-0.05,0.18,-0.14,0.02,0.10,-0.25,0.20,0.05,-0.10,0.28,-0.18,0.08,0.32,-0.22,0.14,-0.05,0.25,-0.30,0.10,-0.45,0.18,-0.12,0.05,-0.06,0.13,-0.15,0.09,0.04,-0.20,0.15,-0.28,0.08,-0.03,0.22,-0.16,0.12,-0.08]
d4_h_gx = [17.00,17.01,17.03,17.04,17.05,17.07,17.08,17.09,17.11,17.12,17.13,17.15,17.16,17.17,17.19,17.20,17.21,17.23,17.24,17.25,17.27,17.28,17.29,17.31,17.32,17.33,17.35,17.36,17.37,17.39,17.40,17.41,17.43,17.44,17.45,17.47,17.48,17.49,17.51,17.52,17.53,17.55,17.56,17.57,17.59,17.60,17.61,17.63,17.64,17.65,17.67,17.68,17.69,17.71,17.72,17.73,17.75,17.76,17.02,17.10,17.18,17.26,17.34,17.42,17.50,17.58,17.66,17.74,17.06,17.14,17.22,17.30,17.38,17.46,17.54,17.62,17.70]
d4_h_gy = [0.10,-0.08,0.20,-0.25,0.05,0.15,-0.12,0.30,0.02,-0.35,0.12,0.08,-0.05,0.25,-0.18,0.04,0.18,-0.40,0.10,0.30,-0.08,0.02,-0.22,0.15,0.36,-0.12,0.06,-0.30,0.20,0.01,-0.15,0.12,0.28,-0.45,0.08,-0.05,0.18,-0.25,0.10,0.02,-0.38,0.22,0.05,-0.10,0.30,-0.18,0.12,0.25,-0.50,0.08,0.15,-0.05,0.28,-0.22,0.04,0.18,-0.12,0.10,-0.15,0.22,0.06,-0.28,0.14,-0.08,0.20,-0.35,0.10,0.03,0.18,-0.20,0.08,0.26,-0.10,0.12,-0.42,0.16,-0.02]

d4_k_bx = [15.62,15.65,15.87,15.96,15.97,15.99,16.00,16.01,16.03,16.05,16.06,16.08,16.10,16.12,16.14,16.16,16.18,16.20,16.22,16.24,16.26,16.28,16.30,16.32,16.34,16.36,16.38,16.40,16.42,16.44,16.45,16.47,16.49,16.51,16.53,16.55,16.57,16.59,16.61,16.63,16.65,16.67,16.69,16.71,16.73,16.75,16.77,16.79,16.81,16.83,16.85,16.86,16.87,16.88,16.89,16.90,16.91,16.92,16.93,16.94,16.95,16.96,16.97,16.98,16.99,17.00,16.46,16.52,16.58,16.64,16.70,16.76,16.82,16.88,16.93,16.97,16.99]
d4_k_by = [-0.02,0.07,0.01,0.10,-0.13,0.02,0.22,-0.13,0.04,0.03,-0.12,0.00,0.05,-0.05,0.08,0.03,-0.15,0.12,0.06,-0.08,0.02,0.14,-0.20,0.05,-0.10,0.10,0.00,-0.25,0.08,0.15,0.24,-0.05,0.12,0.02,-0.15,0.20,0.06,-0.08,0.14,-0.03,0.22,0.04,-0.12,0.10,0.16,-0.06,0.08,-0.18,-0.41,0.12,0.25,-0.43,0.05,0.15,-0.10,0.20,-0.22,0.08,-0.05,0.12,-0.15,0.02,-0.25,0.06,-0.18,-0.08,0.12,-0.05,0.18,0.06,-0.12,0.10,0.03,-0.28,0.14,-0.10,-0.20]
d4_k_gx = [17.00,17.01,17.02,17.03,17.04,17.05,17.07,17.08,17.09,17.10,17.12,17.13,17.14,17.15,17.17,17.18,17.19,17.20,17.22,17.23,17.24,17.25,17.27,17.28,17.29,17.30,17.32,17.33,17.34,17.35,17.37,17.38,17.39,17.40,17.42,17.43,17.44,17.45,17.47,17.48,17.49,17.50,17.52,17.53,17.54,17.55,17.57,17.58,17.59,17.60,17.62,17.63,17.64,17.65,17.67,17.68,17.69,17.70,17.72,17.73,17.74,17.75,17.76,17.06,17.11,17.16,17.21,17.26,17.31,17.36,17.41,17.46,17.51,17.56,17.61,17.66,17.71]
d4_k_gy = [0.05,-0.12,0.18,0.40,-0.05,0.10,-0.22,0.02,0.25,-0.30,0.38,-0.08,0.12,-0.15,0.20,-0.40,0.05,0.14,-0.25,-0.45,0.08,0.22,-0.10,0.02,-0.35,0.15,-0.06,0.25,0.10,-0.20,-0.38,0.12,0.04,-0.12,0.20,-0.28,0.08,0.18,-0.05,0.22,-0.18,0.02,-0.42,0.12,0.06,0.20,-0.10,0.15,-0.30,0.05,0.18,0.22,-0.08,0.10,-0.25,0.14,0.02,-0.50,0.15,0.08,-0.12,0.20,0.02,0.12,-0.18,0.25,-0.08,0.10,-0.32,0.16,0.04,-0.20,0.08,-0.12,0.14,0.24,-0.06]


def pairs(xs, ys):
    return [(a, b) for a, b in zip(xs, ys)]


black_pts = [pairs(d1_j_bx, d1_j_by), pairs(d1_h_bx, d1_h_by), pairs(d1_k_bx, d1_k_by),
             pairs(d2_j_bx, d2_j_by) + pairs(d2_j_bx_more, d2_j_by_more),
             pairs(d2_h_bx, d2_h_by) + pairs(d2_h_bx_more, d2_h_by_more),
             pairs(d2_k_bx, d2_k_by) + pairs(d2_k_bx_more, d2_k_by_more),
             pairs(d3_j_bx, d3_j_by), pairs(d3_h_bx, d3_h_by), pairs(d3_k_bx, d3_k_by),
             pairs(d4_j_bx, d4_j_by), pairs(d4_h_bx, d4_h_by), pairs(d4_k_bx, d4_k_by)]
grey_pts = [pairs(d1_j_gx, d1_j_gy), pairs(d1_h_gx, d1_h_gy), pairs(d1_k_gx, d1_k_gy),
            pairs(d2_j_gx, d2_j_gy) + pairs(d2_j_gx_more, d2_j_gy_more),
            pairs(d2_h_gx, d2_h_gy) + pairs(d2_h_gx_more, d2_h_gy_more),
            pairs(d2_k_gx, d2_k_gy) + pairs(d2_k_gx_more, d2_k_gy_more),
            pairs(d3_j_gx, d3_j_gy), pairs(d3_h_gx, d3_h_gy), pairs(d3_k_gx, d3_k_gy),
            pairs(d4_j_gx, d4_j_gy) + pairs(d4_j_gx_more, d4_j_gy_more),
            pairs(d4_h_gx, d4_h_gy), pairs(d4_k_gx, d4_k_gy)]

# ---------------- layout / styling ----------------
FONT = "Liberation Sans"
X0, X1 = 14.81, 17.77
Y0, Y1 = -0.8, 0.8
x_minor = [round(14.9 + 0.1 * i, 2) for i in range(29)]
y_minor = [round(-0.7 + 0.1 * i, 2) for i in range(15)]
FRAME_W = 537
HEIGHTS = [107, 107, 106, 107, 107, 106, 107, 107, 107, 106, 107, 108]
LABW = 28
BORDER_L = 30
TOP = 5
BOTTOM = 30
MAGH = 20
GREY = "#c6c6c6"
FS = 15

ADV = {"J": 0.5, "H": 0.722, "K": 0.667, "Δ": 0.668, "-": 0.333, "2": 0.556, "M": 0.833,
       "A": 0.667, "S": 0.667, "W": 0.944, "I": 0.278, "R": 0.722, "D": 0.722, "G": 0.778,
       " ": 0.278, "=": 0.584, "+": 0.584, ".": 0.278, "s": 0.5}


def width(txt, size):
    return sum(ADV.get(c, 0.556) for c in txt) * size


blank = CustomJSTickFormatter(code="return ''")


def style_axis(ax, maj, mnr):
    ax.major_tick_in = maj
    ax.major_tick_out = 0
    ax.minor_tick_in = mnr
    ax.minor_tick_out = 0
    ax.major_tick_line_color = "black"
    ax.minor_tick_line_color = "black"
    ax.major_tick_line_width = 1
    ax.minor_tick_line_width = 1
    ax.axis_line_color = None
    ax.major_label_text_font = FONT
    ax.major_label_text_font_size = "14px"
    ax.major_label_text_color = "black"


def txt_label(**kw):
    base = dict(text_font=FONT, text_color="black", text_baseline="middle", text_align="left")
    base.update(kw)
    return Label(**base)


rows = []
n = len(fields)
for i in range(n):
    last = i == n - 1
    h = HEIGHTS[i]
    ppx = FRAME_W / (X1 - X0)
    ppy = h / (Y1 - Y0)
    top_b = TOP if i == 0 else 0

    p = figure(frame_width=FRAME_W, frame_height=h,
               x_range=Range1d(X0, X1), y_range=Range1d(Y0, Y1),
               output_backend="svg", toolbar_location=None,
               x_axis_location=None, y_axis_location=None,
               min_border_left=BORDER_L, min_border_right=3,
               min_border_top=top_b, min_border_bottom=(BOTTOM if last else 0),
               background_fill_color="white", border_fill_color="white",
               outline_line_color="black", outline_line_width=2)
    p.grid.grid_line_color = None

    yt = FixedTicker(ticks=y_tick_values, minor_ticks=y_minor)
    xt = FixedTicker(ticks=x_tick_values, minor_ticks=x_minor)

    left = LinearAxis(ticker=yt, formatter=NumeralTickFormatter(format="0.0"), major_label_standoff=5)
    style_axis(left, 8, 4)
    p.add_layout(left, "left")

    right = LinearAxis(ticker=yt, formatter=blank, fixed_location=X1, major_label_standoff=0)
    style_axis(right, 8, 4)
    p.add_layout(right, "right")

    top = LinearAxis(ticker=xt, formatter=blank, fixed_location=Y1, major_label_standoff=0)
    style_axis(top, 6, 3)
    p.add_layout(top, "above")

    if last:
        bottom = LinearAxis(ticker=xt, formatter=NumeralTickFormatter(format="0.0"), major_label_standoff=12)
    else:
        bottom = LinearAxis(ticker=xt, formatter=blank, fixed_location=Y0, major_label_standoff=0)
    style_axis(bottom, 6, 3)
    p.add_layout(bottom, "below")

    g = grey_pts[i]
    b = black_pts[i]
    gsrc = ColumnDataSource(dict(x=[t[0] for t in g], y=[t[1] for t in g]))
    bsrc = ColumnDataSource(dict(x=[t[0] for t in b], y=[t[1] for t in b]))
    p.scatter("x", "y", source=gsrc, size=5, marker="circle", fill_color=GREY, line_color=None)
    p.scatter("x", "y", source=bsrc, size=5, marker="circle", fill_color="black", line_color=None)

    p.add_layout(Span(location=0.0, dimension="width", line_color="black", line_width=1, line_dash="2 5"))
    p.add_layout(Span(location=deltas[i], dimension="width", line_color="black", line_width=1, line_dash="8 6"))

    # delta label; vertical centre 11 px above the zero line
    band = bands[i]
    letter = band[0]
    ylab = 11.0 / ppy
    xo = 18.0
    p.add_layout(txt_label(x=X0 + xo / ppx, y=ylab, text="Δ", text_font_size=f"{FS}px"))
    xo += width("Δ", FS)
    p.add_layout(txt_label(x=X0 + xo / ppx, y=ylab, text=letter, text_font_style="italic",
                           text_font_size=f"{FS}px"))
    xo += width(letter, FS) + 1
    if len(band) > 1:
        p.add_layout(txt_label(x=X0 + xo / ppx, y=ylab - 5.0 / ppy, text=band[1:], text_font_size="9px"))
        xo += width(band[1:], 9) + 1.5
    xo += width(" ", FS)
    p.add_layout(txt_label(x=X0 + xo / ppx, y=ylab, text=f"= {deltas[i]:+.3f}", text_font_size=f"{FS}px"))

    # field label, centre 12.5 px above the bottom edge
    p.add_layout(txt_label(x=X0 + 18.0 / ppx, y=Y0 + 12.5 / ppy, text=fields[i], text_font_size=f"{FS}px"))

    # strip with rotated y label:  X_2MASS-X_WIRDS
    lab = figure(frame_width=LABW, frame_height=h, x_range=Range1d(0, LABW), y_range=Range1d(0, h),
                 output_backend="svg", toolbar_location=None,
                 x_axis_location=None, y_axis_location=None,
                 min_border_left=0, min_border_right=0, min_border_top=top_b, min_border_bottom=0,
                 background_fill_color="white", border_fill_color="white", outline_line_color=None)
    lab.grid.grid_line_color = None
    big, small = 13, 6.5
    pieces = [(letter, big, 17.5), ("2MASS", small, 22.5), ("-" + letter, big, 17.5), ("WIRDS", small, 22.5)]
    total = sum(width(t, s) for t, s, _ in pieces)
    along = h / 2 - total / 2
    for t, s, cx in pieces:
        lab.add_layout(txt_label(x=cx, y=along, text=t, angle=math.pi / 2, text_font_size=f"{s}px"))
        along += width(t, s)

    rows.append(row(lab, p, spacing=0))

# strip holding the x-axis title MAG_2MASS
mag = figure(frame_width=598, frame_height=MAGH, x_range=Range1d(0, 598), y_range=Range1d(MAGH, 0),
             output_backend="svg", toolbar_location=None,
             x_axis_location=None, y_axis_location=None,
             min_border_left=0, min_border_right=0, min_border_top=0, min_border_bottom=0,
             background_fill_color="white", border_fill_color="white", outline_line_color=None)
mag.grid.grid_line_color = None
mx = 302
mag.add_layout(txt_label(x=mx, y=6.5, text="MAG", text_font_size="11.5px"))
mag.add_layout(txt_label(x=mx + width("MAG", 11.5), y=9.5, text="2MASS", text_font_size="6px"))

layout = column(*rows, mag, spacing=0)
open("out.html", "w").write(file_html(layout, INLINE, title="2MASS vs WIRDS"))
